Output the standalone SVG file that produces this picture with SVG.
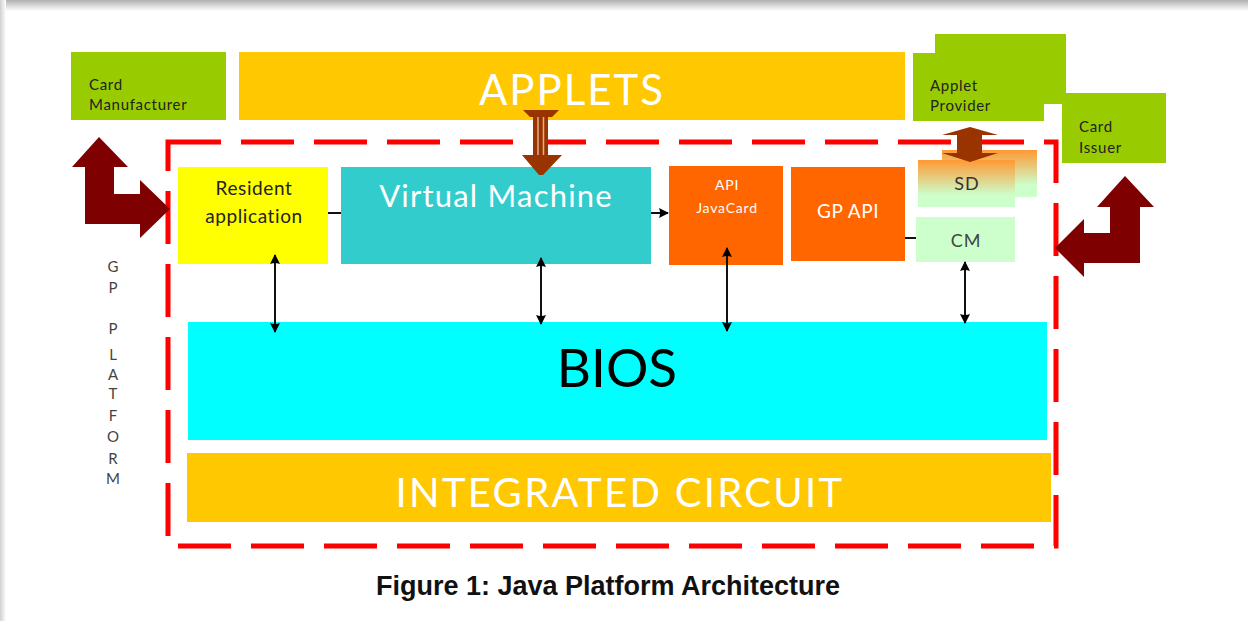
<svg xmlns="http://www.w3.org/2000/svg" width="1248" height="621" viewBox="0 0 1248 621">
  <defs>
    <linearGradient id="topShadow" x1="0" y1="0" x2="0" y2="1">
      <stop offset="0" stop-color="#b0b0b0"/>
      <stop offset="1" stop-color="#ffffff"/>
    </linearGradient>
    <linearGradient id="leftShadow" x1="0" y1="0" x2="1" y2="0">
      <stop offset="0" stop-color="#d0d0d0"/>
      <stop offset="1" stop-color="#ffffff"/>
    </linearGradient>
    <linearGradient id="sdGrad" x1="0" y1="0" x2="0" y2="1">
      <stop offset="0" stop-color="#FF9933"/>
      <stop offset="0.75" stop-color="#CCFFCC"/>
      <stop offset="1" stop-color="#CCFFCC"/>
    </linearGradient>
    <marker id="ah" viewBox="0 0 10 10" refX="9" refY="5" markerWidth="5" markerHeight="5" orient="auto-start-reverse" markerUnits="strokeWidth">
      <path d="M0,0 L10,5 L0,10 Q2,5 0,0 Z" fill="#000"/>
    </marker>
    <style>
      .lbl { font-family: Lato, "Open Sans", "Liberation Sans", sans-serif; }
      .small { font-size: 15px; letter-spacing: 0.7px; }
      .dark { fill: #222; }
      .white { fill: #ffffff; }
      .green { fill: #99CC00; }
      .gold { fill: #FFC800; }
      .orange { fill: #FF6600; }
      .brown { fill: #7F0000; }
      .sienna { fill: #993300; }
      .conn { stroke: #111; stroke-width: 2; fill: none; }
      .plat { font-family: Lato, "Open Sans", "Liberation Sans", sans-serif; font-size: 15px; fill: #444; text-anchor: middle; }
    </style>
  </defs>

  <rect x="0" y="0" width="1248" height="621" fill="#ffffff"/>
  <rect x="0" y="0" width="1248" height="11" fill="url(#topShadow)"/>
  <rect x="0" y="0" width="6" height="621" fill="url(#leftShadow)"/>

  <!-- GP platform boundary -->
  <g id="gp-platform">
    <rect x="168" y="142" width="888" height="404" fill="none" stroke="#FF0000" stroke-width="5" stroke-dasharray="53 20"/>
    <text class="plat" x="113" y="272">G</text>
    <text class="plat" x="113" y="293">P</text>
    <text class="plat" x="113" y="334">P</text>
    <text class="plat" x="113" y="360">L</text>
    <text class="plat" x="113" y="380">A</text>
    <text class="plat" x="113" y="399">T</text>
    <text class="plat" x="113" y="421">F</text>
    <text class="plat" x="113" y="442">O</text>
    <text class="plat" x="113" y="464">R</text>
    <text class="plat" x="113" y="484">M</text>
  </g>

  <g id="card-manufacturer">
    <rect class="green" x="71" y="52" width="155" height="68"/>
    <text class="lbl small dark" x="89" y="90">Card</text>
    <text class="lbl small dark" x="89" y="110">Manufacturer</text>
  </g>

  <g id="applets">
    <rect class="gold" x="239" y="52" width="666" height="68"/>
    <text class="lbl white" x="572" y="105" font-size="42" letter-spacing="2" text-anchor="middle">APPLETS</text>
  </g>

  <g id="applet-provider">
    <rect class="green" x="935" y="34" width="131" height="70"/>
    <rect class="green" x="913" y="53" width="131" height="68"/>
    <text class="lbl small dark" x="930" y="91">Applet</text>
    <text class="lbl small dark" x="930" y="111">Provider</text>
  </g>

  <g id="card-issuer">
    <rect class="green" x="1062" y="93" width="104" height="70"/>
    <text class="lbl small dark" x="1079" y="132">Card</text>
    <text class="lbl small dark" x="1079" y="153">Issuer</text>
  </g>

  <g id="resident-application">
    <rect x="178" y="167" width="150" height="97" fill="#FFFF00"/>
    <text class="lbl dark" x="254" y="195" font-size="19" letter-spacing="0.6" text-anchor="middle">Resident</text>
    <text class="lbl dark" x="254" y="223" font-size="19" letter-spacing="0.6" text-anchor="middle">application</text>
  </g>

  <g id="virtual-machine">
    <rect x="341" y="167" width="310" height="97" fill="#33CCCC"/>
    <text class="lbl white" x="496" y="207" font-size="31" letter-spacing="1.2" text-anchor="middle">Virtual Machine</text>
  </g>

  <g id="api-javacard">
    <rect class="orange" x="669" y="166" width="114" height="99"/>
    <text class="lbl white" x="727" y="190" font-size="14" letter-spacing="0.8" text-anchor="middle">API</text>
    <text class="lbl white" x="727" y="213" font-size="14" letter-spacing="0.8" text-anchor="middle">JavaCard</text>
  </g>

  <g id="gp-api">
    <rect class="orange" x="791" y="167" width="114" height="94"/>
    <text class="lbl white" x="848" y="218" font-size="19" letter-spacing="0.6" text-anchor="middle">GP API</text>
  </g>

  <g id="sd">
    <rect x="942" y="150" width="95" height="47" fill="url(#sdGrad)"/>
    <rect x="918" y="160" width="97" height="47" fill="url(#sdGrad)"/>
    <text class="lbl" x="967" y="190" font-size="18" letter-spacing="1" fill="#333" text-anchor="middle">SD</text>
  </g>

  <g id="cm">
    <rect x="916" y="217" width="99" height="45" fill="#CCFFCC"/>
    <text class="lbl" x="966" y="247" font-size="18" letter-spacing="1" fill="#444" text-anchor="middle">CM</text>
  </g>

  <g id="bios">
    <rect x="188" y="322" width="859" height="118" fill="#00FFFF"/>
    <text class="lbl" x="617" y="387" font-size="53" fill="#000" text-anchor="middle">BIOS</text>
  </g>

  <g id="integrated-circuit">
    <rect class="gold" x="187" y="453" width="864" height="69"/>
    <text class="lbl white" x="620" y="507" font-size="40" letter-spacing="2.3" text-anchor="middle">INTEGRATED CIRCUIT</text>
  </g>

  <g id="connectors">
    <!-- card manufacturer <-> resident application -->
    <path class="brown" d="M99,137 L128,167 L114,167 L114,194 L140,194 L140,180 L170,209 L140,238 L140,224 L85,224 L85,167 L72,167 Z"/>
    <!-- card issuer <-> CM -->
    <path class="brown" d="M1125,176 L1154,207 L1140,207 L1140,263 L1084,263 L1084,277 L1055,248 L1084,219 L1084,233 L1110,233 L1110,207 L1097,207 Z"/>
    <!-- applets -> VM -->
    <path class="sienna" d="M523,110 L559,110 L552,117 L548,117 L548,155 L562,155 L543,175 L539,175 L522,155 L533,155 L533,117 L530,117 Z"/>
    <line x1="538" y1="117" x2="538" y2="155" stroke="#E2B08C" stroke-width="1.5"/>
    <line x1="543.5" y1="117" x2="543.5" y2="155" stroke="#E2B08C" stroke-width="1.5"/>
    <!-- applet provider <-> SD -->
    <path class="sienna" d="M970,127 L998,135 L982,135 L982,153 L998,153 L970,162 L942,153 L957,153 L957,135 L942,135 Z"/>
    <!-- horizontal links -->
    <line class="conn" x1="328" y1="213" x2="341" y2="213" stroke-width="1.5"/>
    <line class="conn" x1="651" y1="213" x2="668" y2="213" stroke-width="1.5" marker-end="url(#ah)"/>
    <line class="conn" x1="905" y1="238" x2="916" y2="238" stroke-width="1.5"/>
    <!-- vertical links to BIOS -->
    <line class="conn" x1="275" y1="255" x2="275" y2="332" marker-start="url(#ah)" marker-end="url(#ah)"/>
    <line class="conn" x1="541" y1="258" x2="541" y2="324" marker-start="url(#ah)" marker-end="url(#ah)"/>
    <line class="conn" x1="727" y1="248" x2="727" y2="331" marker-start="url(#ah)" marker-end="url(#ah)"/>
    <line class="conn" x1="965" y1="262" x2="965" y2="323" marker-start="url(#ah)" marker-end="url(#ah)"/>
  </g>

  <text x="608" y="595" font-family="'Liberation Sans', Arial, sans-serif" font-size="27" font-weight="bold" fill="#111" text-anchor="middle">Figure 1: Java Platform Architecture</text>
</svg>
